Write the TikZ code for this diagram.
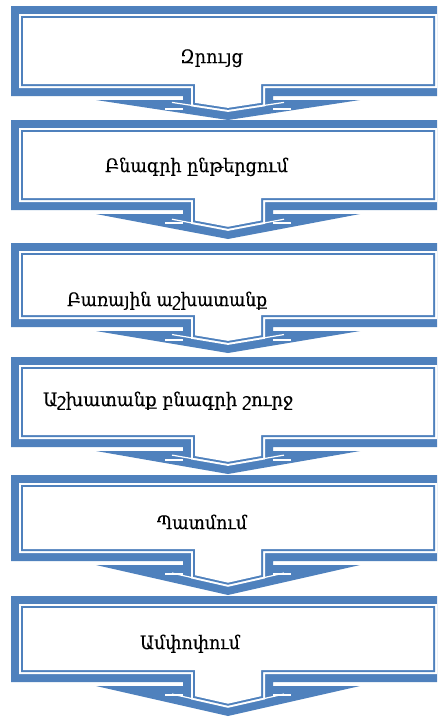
\documentclass[tikz,border=0pt]{standalone}
\usepackage{fontspec}
\usepackage{graphicx}
\setmainfont{DejaVu Serif}
\newfontfamily\lblfont{DejaVu Serif}[FakeBold=0.35]
\definecolor{cblue}{HTML}{4F81BD}
\newcommand{\cinset}[2]{%
  \pgfmathsetmacro{\cL}{11+#1}%
  \pgfmathsetmacro{\cR}{445-#1}%
  \pgfmathsetmacro{\cTt}{\cT+#1}%
  \pgfmathsetmacro{\cBb}{\cB-#1}%
  \pgfmathsetmacro{\cSl}{183+#1}%
  \pgfmathsetmacro{\cSr}{273-#1}%
  \pgfmathsetmacro{\cYs}{\cH+\cs*(87+#1)-#1*\ck}%
  \pgfmathsetmacro{\cYc}{\cP-#1*\ck}%
  \fill[#2] (\cL,\cTt) -- (\cR,\cTt) -- (\cR,\cBb) -- (\cSr,\cBb) -- (\cSr,\cYs)
     -- (228,\cYc) -- (\cSl,\cYs) -- (\cSl,\cBb) -- (\cL,\cBb) -- cycle;
}
\newcommand{\callout}[3]{%
  \pgfmathsetmacro{\cT}{#1}%
  \pgfmathsetmacro{\cB}{#2}%
  \pgfmathsetmacro{\cP}{#3}%
  \pgfmathsetmacro{\cH}{#2+4}%
  \pgfmathsetmacro{\cs}{(#3-\cH)/132}%
  \pgfmathsetmacro{\ck}{sqrt(1+\cs*\cs)}%
  \fill[cblue] (11,\cT) -- (450,\cT) -- (450,\cB) -- (273,\cB) -- (273,\cH)
     -- (360,\cH) -- (228,\cP) -- (96,\cH) -- (183,\cH) -- (183,\cB)
     -- (11,\cB) -- cycle;
  \cinset{8}{white}\cinset{10}{cblue}\cinset{12}{white}%
  \pgfmathsetmacro{\cHg}{\cH+9}%
  \pgfmathsetmacro{\cya}{\cH+\cs*(172-96)-9*\ck}%
  \pgfmathsetmacro{\cyb}{\cH+\cs*(192-96)-9*\ck}%
  \draw[gapline] (165,\cHg) -- (183,\cHg);
  \draw[gapline] (291,\cHg) -- (273,\cHg);
  \draw[gapline] (172,\cya) -- (192,\cyb);
  \draw[gapline] (284,\cya) -- (264,\cyb);
}
\begin{document}
\begin{tikzpicture}[x=1pt,y=-1pt,
  gapline/.style={white,line width=1.2pt},
  lbl/.style={anchor=base west,inner sep=0pt,outer sep=0pt,text=black,
    font=\lblfont\fontsize{18.5}{22}\selectfont}]
\useasboundingbox (0,0) rectangle (437,718);
\clip (0,0) rectangle (437,718);
\fill[white] (0,0) rectangle (437,718);
\callout{6}{96}{120}
\callout{120}{210}{239}
\callout{243}{327}{353}
\callout{357}{447}{474}
\callout{475}{561}{595}
\callout{596}{682}{716}
\node[lbl] (t1) at (180,63) {\resizebox{63pt}{\height}{Զրույց}};
\node[lbl] (t2) at (105,172) {\resizebox{183pt}{\height}{Բնագրի ընթերցում}};
\node[lbl] (t3) at (67,306) {\resizebox{200pt}{\height}{Բառային աշխատանք}};
\node[lbl] (t4) at (43,406) {\resizebox{250pt}{\height}{Աշխատանք բնագրի շուրջ}};
\node[lbl] (t5) at (157,529) {\resizebox{90pt}{\height}{Պատմում}};
\node[lbl] (t6) at (140,649) {\resizebox{100pt}{\height}{Ամփոփում}};
\end{tikzpicture}
\end{document}
